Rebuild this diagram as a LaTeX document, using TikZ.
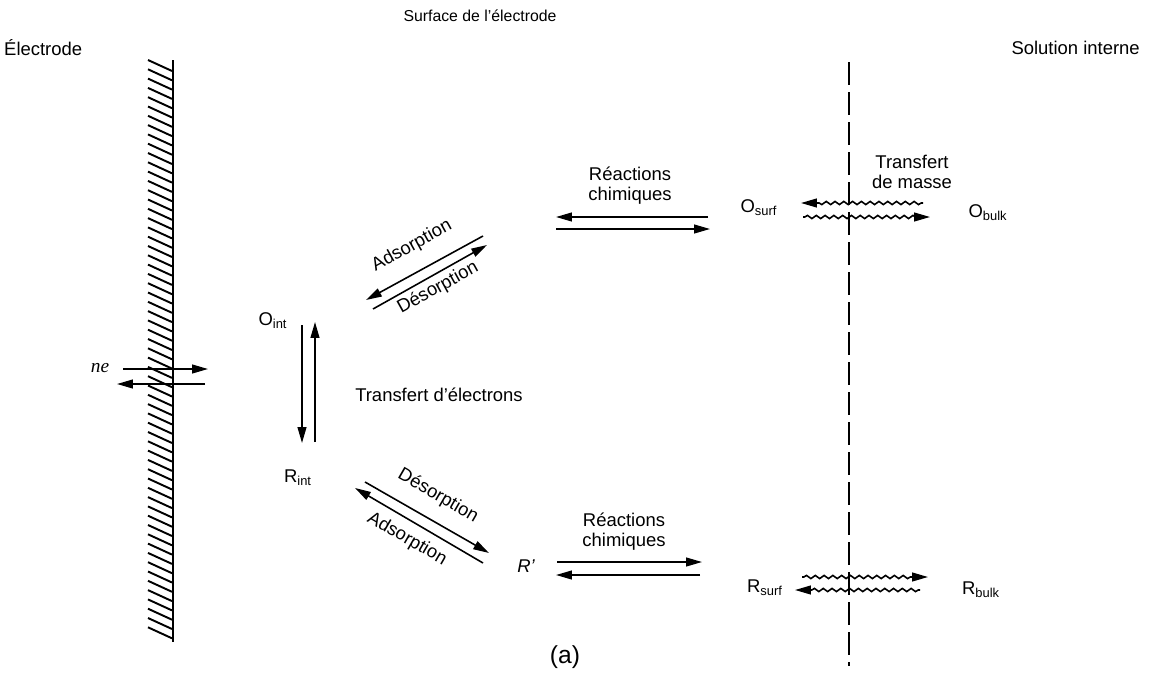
\documentclass[tikz,border=0pt]{standalone}
\usepackage{fontspec}
\setmainfont{Liberation Sans}
\newfontfamily\serifit{Liberation Serif}
\usetikzlibrary{arrows.meta,decorations.pathmorphing}

\begin{document}
\begin{tikzpicture}[x=0.2mm, y=-0.2mm, font=\fontsize{10.5}{11.5}\selectfont]
  \tikzset{
    arr/.style={line width=0.9pt, -{Triangle[length=9pt,width=5pt]}},
    wav/.style={arr, decorate, decoration={snake, amplitude=0.9pt, segment length=5pt, pre length=1pt, post length=8pt}},
    sp/.style={inner sep=0.5pt},
    tag/.style={inner sep=0.5pt, align=center},
  }
  \useasboundingbox (0,0) rectangle (1149,685);

  % headings
  \node[sp, font=\fontsize{9}{10}\selectfont] (surf) at (480,16) {Surface de l'électrode};
  \node[sp, anchor=west] (elec) at (3,48) {Électrode};
  \node[sp, anchor=east] (sol) at (1141,48) {Solution interne};

  % electrode wall with hatching
  \draw[line width=1.2pt] (173,60) -- (173,642);
  \foreach \y in {60,69.3,...,630} { \draw[line width=1.1pt] (148,\y) -- (172,{\y+11}); }

  % diffusion layer limit
  \draw[line width=1pt, dash pattern=on 4.5mm off 1.5mm] (849,62) -- (849,666);

  % electrons through the wall
  \node[sp, font=\serifit\itshape\fontsize{11}{12}\selectfont] (ne) at (100,368) {ne};
  \coordinate (e1) at (123,369); \coordinate (e2) at (208,369);
  \coordinate (e3) at (205,384); \coordinate (e4) at (117,384);
  \draw[arr] (e1) -- (e2);
  \draw[arr] (e3) -- (e4);

  % species
  \node[sp] (Oint) at (273,321) {O\textsubscript{int}};
  \node[sp] (Rint) at (298,478) {R\textsubscript{int}};
  \node[sp] (Osurf) at (759,208) {O\textsubscript{surf}};
  \node[sp] (Obulk) at (988,213) {O\textsubscript{bulk}};
  \node[sp, font=\itshape\fontsize{10.5}{11.5}\selectfont] (Rp) at (526,566) {R’};
  \node[sp] (Rsurf) at (765,588) {R\textsubscript{surf}};
  \node[sp] (Rbulk) at (981,590) {R\textsubscript{bulk}};

  % electron transfer
  \coordinate (t1) at (302,325); \coordinate (t2) at (302,443);
  \coordinate (t3) at (315,442); \coordinate (t4) at (315,322);
  \draw[arr] (t1) -- (t2);
  \draw[arr] (t3) -- (t4);
  \node[sp] (tel) at (439,395) {Transfert d'électrons};

  % adsorption / desorption of O
  \coordinate (ua1) at (483,236); \coordinate (ua2) at (366,300);
  \coordinate (ud1) at (373,309); \coordinate (ud2) at (487,245);
  \draw[arr] (ua1) -- (ua2);
  \draw[arr] (ud1) -- (ud2);
  \node[sp, rotate=29] (uads) at (412,246) {Adsorption};
  \node[sp, rotate=29] (udes) at (438,288) {Désorption};

  % desorption / adsorption of R
  \coordinate (ld1) at (365,482); \coordinate (ld2) at (489,553);
  \coordinate (la1) at (483,563); \coordinate (la2) at (355,488);
  \draw[arr] (ld1) -- (ld2);
  \draw[arr] (la1) -- (la2);
  \node[sp, rotate=-30] (ldes) at (438,496) {Désorption};
  \node[sp, rotate=-30] (lads) at (407,539) {Adsorption};

  % chemical reactions, upper
  \node[tag] (ucr) at (630,186) {Réactions\\chimiques};
  \coordinate (uc1) at (708,217); \coordinate (uc2) at (556,217);
  \coordinate (uc3) at (556,229); \coordinate (uc4) at (710,229);
  \draw[arr] (uc1) -- (uc2);
  \draw[arr] (uc3) -- (uc4);

  % chemical reactions, lower
  \node[tag] (lcr) at (624,532) {Réactions\\chimiques};
  \coordinate (lc1) at (557,562); \coordinate (lc2) at (702,562);
  \coordinate (lc3) at (700,575); \coordinate (lc4) at (556,575);
  \draw[arr] (lc1) -- (lc2);
  \draw[arr] (lc3) -- (lc4);

  % mass transfer
  \node[tag] (mt) at (912,172) {Transfert\\de masse};
  \coordinate (m1) at (923,203); \coordinate (m2) at (801,203);
  \coordinate (m3) at (803,217); \coordinate (m4) at (930,217);
  \draw[wav] (m1) -- (m2);
  \draw[wav] (m3) -- (m4);
  \coordinate (m5) at (802,577); \coordinate (m6) at (928,577);
  \coordinate (m7) at (920,590); \coordinate (m8) at (795,590);
  \draw[wav] (m5) -- (m6);
  \draw[wav] (m7) -- (m8);

  % caption
  \node[sp, font=\fontsize{14}{16}\selectfont] (cap) at (565,657) {(a)};
\end{tikzpicture}
\end{document}
